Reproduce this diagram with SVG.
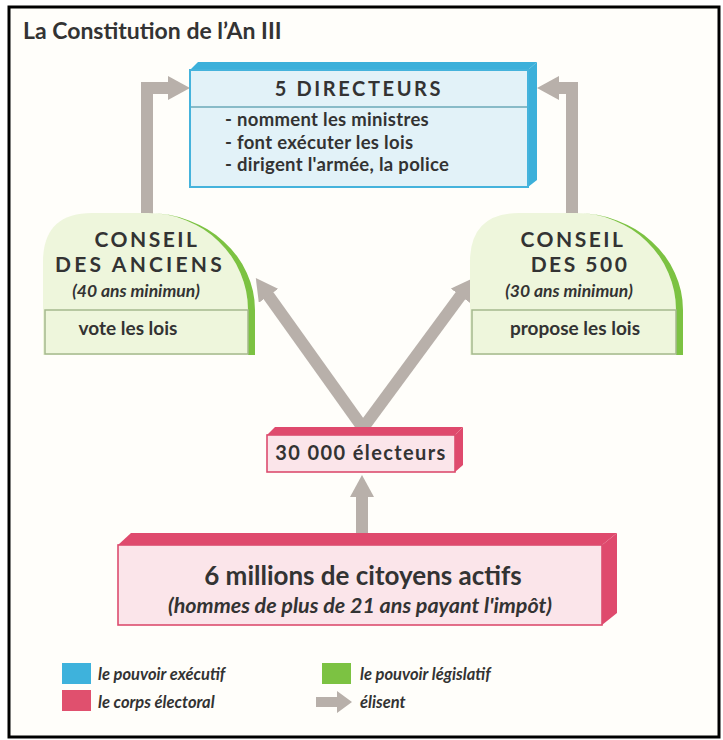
<svg xmlns="http://www.w3.org/2000/svg" width="723" height="740" viewBox="0 0 723 740">
<defs>
<style>
.t{font-family:Lato,"Open Sans","DejaVu Sans",sans-serif;fill:#333;font-weight:700}
.c{text-anchor:middle}
.it{font-style:italic}
.arr{fill:none;stroke:#b8b0aa;stroke-width:12;stroke-linejoin:miter}
.blueF{fill:#e2f2f8;stroke:#45b3dc;stroke-width:2}
.blueD{fill:#3cb0da}
.pinkF{fill:#fbe5ea;stroke:#dc4d6f;stroke-width:1.6}
.pinkD{fill:#df4a6d}
.greenF{fill:#eef6dc}
.greenD{fill:#7cc242}
.inner{fill:none;stroke:#a5b98d;stroke-width:1.5}
</style>
<marker id="ah" markerUnits="userSpaceOnUse" viewBox="0 0 22 24" markerWidth="22" markerHeight="24" refX="1" refY="12" orient="auto">
<path d="M0,0 L22,12 L0,24 Z" fill="#b8b0aa"/>
</marker>
</defs>
<rect x="0" y="0" width="723" height="740" fill="#ffffff"/>
<rect x="9" y="7" width="710" height="730" fill="#fffefa" stroke="#000" stroke-width="3"/>
<text class="t" x="23" y="39" font-size="23">La Constitution de l’An III</text>

<g id="connectors">
<path class="arr" d="M147,214 V88 H169" marker-end="url(#ah)"/>
<path class="arr" d="M572,214 V88 H558" marker-end="url(#ah)"/>
<path class="arr" d="M363,428 L268,295" marker-end="url(#ah)"/>
<path class="arr" d="M363,428 L461,295" marker-end="url(#ah)"/>
<path class="arr" d="M362,534 V496" marker-end="url(#ah)"/>
</g>

<g id="directeurs">
<polygon class="blueD" points="190,70 198,62 537,62 528,70"/>
<polygon class="blueD" points="528,70 537,62 537,180 528,187"/>
<rect class="blueF" x="190" y="70" width="338" height="117"/>
<line x1="191" y1="107" x2="527" y2="107" stroke="#6aa8b8" stroke-width="1.3"/>
<text class="t c" x="359" y="96" font-size="20" letter-spacing="2.6">5 DIRECTEURS</text>
<text class="t" x="225" y="126" font-size="18.5" letter-spacing="0.3">- nomment les ministres</text>
<text class="t" x="225" y="148.5" font-size="18.5" letter-spacing="0.3">- font exécuter les lois</text>
<text class="t" x="225" y="171" font-size="18.5" letter-spacing="0.3">- dirigent l'armée, la police</text>
</g>

<g id="anciens">
<path class="greenF" d="M43,355 V262 Q43,213 92,213 H148 A100,97 0 0 1 248,310 V355 Z"/>
<path class="greenD" d="M148,213 A107,97 0 0 1 255,310 V355 H248 V310 A100,97 0 0 0 148,213 Z"/>
<rect class="inner" x="45" y="310" width="203" height="44"/>
<text class="t c" x="147" y="247" font-size="21" letter-spacing="2.5">CONSEIL</text>
<text class="t c" x="140" y="272" font-size="21" letter-spacing="3.2">DES ANCIENS</text>
<text class="t c it" x="136" y="297" font-size="17.5">(40 ans minimun)</text>
<text class="t c" x="128" y="335" font-size="19">vote les lois</text>
</g>

<g id="cinqcents">
<path class="greenF" d="M470,355 V262 Q470,213 519,213 H576 A100,97 0 0 1 676,310 V355 Z"/>
<path class="greenD" d="M576,213 A107,97 0 0 1 683,310 V355 H676 V310 A100,97 0 0 0 576,213 Z"/>
<rect class="inner" x="472" y="310" width="204" height="44"/>
<text class="t c" x="573" y="247" font-size="21" letter-spacing="2.5">CONSEIL</text>
<text class="t c" x="580" y="272" font-size="21" letter-spacing="2.5">DES 500</text>
<text class="t c it" x="569" y="297" font-size="17.5">(30 ans minimun)</text>
<text class="t c" x="575" y="335" font-size="19">propose les lois</text>
</g>

<g id="electeurs">
<polygon class="pinkD" points="267,435 275,427 463,427 455,435"/>
<polygon class="pinkD" points="455,435 463,427 463,465 455,472"/>
<rect class="pinkF" x="267" y="435" width="188" height="37"/>
<text class="t c" x="361" y="460" font-size="20" letter-spacing="1.4">30 000 électeurs</text>
</g>

<g id="citoyens">
<polygon class="pinkD" points="118,545 131,533 617,533 602,545"/>
<polygon class="pinkD" points="602,545 617,533 617,613 602,625"/>
<rect class="pinkF" x="118" y="545" width="484" height="80"/>
<text class="t c" x="363" y="585" font-size="26">6 millions de citoyens actifs</text>
<text class="t c it" x="360" y="613" font-size="21.5">(hommes de plus de 21 ans payant l'impôt)</text>
</g>

<g id="legend">
<rect x="62" y="663" width="29" height="21" fill="#3eb2dc"/>
<text class="t it" x="98" y="680" font-size="16.5" font-weight="600">le pouvoir exécutif</text>
<rect x="322" y="663" width="29" height="21" fill="#7cc242"/>
<text class="t it" x="360" y="680" font-size="16.5" font-weight="600">le pouvoir législatif</text>
<rect x="62" y="690" width="29" height="21" fill="#e0506e"/>
<text class="t it" x="98" y="708" font-size="16.5" font-weight="600">le corps électoral</text>
<polygon points="316,697 337,697 337,691 352,702 337,713 337,707 316,707" fill="#b8b0aa"/>
<text class="t it" x="360" y="708" font-size="16.5" font-weight="600">élisent</text>
</g>
</svg>
